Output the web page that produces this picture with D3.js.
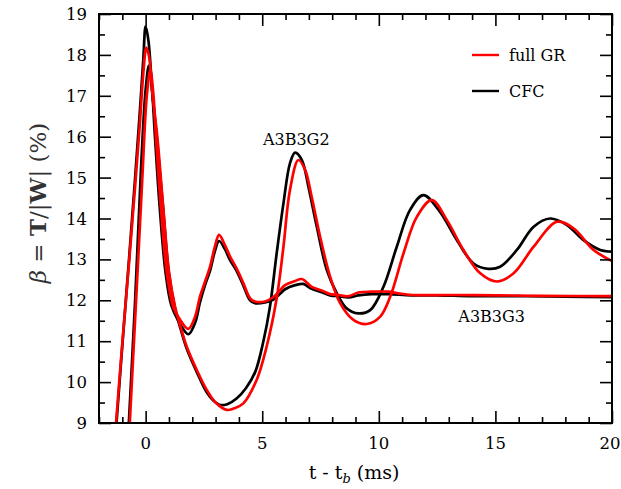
<!DOCTYPE html>
<html>
<head>
<meta charset="utf-8">
<script src="https://cdn.jsdelivr.net/npm/d3@7"></script>
<style>
  html, body { margin: 0; padding: 0; background: #fff; }
  svg { display: block; font-family: "DejaVu Serif", serif; }
</style>
</head>
<body>
<svg id="chart" width="621" height="489"></svg>
<script>
// Rotational-to-gravitational energy ratio beta = T/|W| (%) versus time after bounce (ms)

// A3B3G2, full GR
const grG2Time = [-1.6, -1.27, -1.0, -0.7, -0.45, -0.25, -0.1, 0.03, 0.15, 0.3, 0.5, 0.75, 1.0, 1.26, 1.5, 1.76, 2.19, 2.62, 3.0, 3.48, 3.8, 4.19, 4.76, 5.19, 5.62, 5.91, 6.19, 6.55, 6.84, 7.12, 7.48, 7.91, 8.34, 8.91, 9.48, 10.06, 10.49, 11.06, 11.63, 12.27, 12.92, 13.63, 14.35, 15.06, 15.78, 16.64, 17.64, 18.35, 19.21, 20];
const grG2Beta = [6.6, 9.0, 10.95, 13.0, 14.8, 16.3, 17.55, 18.18, 17.95, 17.0, 16.0, 14.3, 12.7, 11.85, 11.35, 10.87, 10.3, 9.81, 9.5, 9.32, 9.36, 9.48, 10.05, 10.87, 12.05, 13.31, 14.7, 15.43, 15.19, 14.53, 13.56, 12.58, 11.93, 11.52, 11.42, 11.6, 12.09, 13.15, 14.04, 14.45, 13.96, 13.23, 12.66, 12.46, 12.66, 13.31, 13.92, 13.76, 13.23, 12.96];

// A3B3G2, CFC
const cfcG2Time = [-1.6, -1.25, -1.0, -0.7, -0.45, -0.25, -0.1, 0.0, 0.12, 0.3, 0.5, 0.75, 1.0, 1.26, 1.5, 1.76, 2.19, 2.62, 2.9, 3.2, 3.5, 3.9, 4.3, 4.7, 5.05, 5.33, 5.62, 5.91, 6.19, 6.41, 6.7, 6.98, 7.34, 7.77, 8.2, 8.63, 9.12, 9.63, 10.2, 10.77, 11.34, 11.91, 12.6, 13.35, 14.06, 14.7, 15.2, 15.92, 16.64, 17.35, 18.07, 18.78, 19.5, 20];
const cfcG2Beta = [6.5, 9.0, 10.9, 13.1, 15.0, 16.6, 17.9, 18.7, 18.35, 17.0, 15.85, 14.25, 12.65, 11.8, 11.3, 10.82, 10.25, 9.75, 9.55, 9.44, 9.46, 9.6, 9.85, 10.25, 11.0, 11.84, 13.15, 14.37, 15.35, 15.61, 15.43, 14.78, 13.8, 12.74, 12.17, 11.8, 11.68, 11.76, 12.33, 13.31, 14.21, 14.57, 14.18, 13.47, 12.9, 12.77, 12.82, 13.23, 13.8, 14.0, 13.84, 13.47, 13.23, 13.19];

// A3B3G3, full GR
const grG3Time = [-0.95, -0.68, -0.4, -0.15, 0.05, 0.2, 0.33, 0.45, 0.65, 0.9, 1.19, 1.45, 1.83, 2.12, 2.33, 2.55, 2.76, 2.97, 3.15, 3.4, 3.62, 3.9, 4.19, 4.48, 4.69, 5.12, 5.48, 5.69, 5.98, 6.41, 6.7, 7.12, 7.55, 7.91, 8.27, 8.7, 9.12, 9.7, 10.4, 10.84, 11.42, 13.3, 15, 17, 20];
const grG3Beta = [5.9, 9.0, 12.1, 14.9, 17.0, 17.63, 17.05, 15.9, 14.3, 12.7, 11.82, 11.55, 11.3, 11.6, 12.09, 12.46, 12.82, 13.31, 13.6, 13.35, 13.07, 12.78, 12.42, 12.05, 11.97, 11.97, 12.08, 12.2, 12.37, 12.47, 12.52, 12.33, 12.24, 12.15, 12.13, 12.1, 12.19, 12.21, 12.21, 12.17, 12.13, 12.13, 12.12, 12.11, 12.1];

// A3B3G3, CFC
const cfcG3Time = [-1.0, -0.72, -0.45, -0.2, 0.0, 0.14, 0.28, 0.4, 0.6, 0.85, 1.1, 1.4, 1.83, 2.12, 2.33, 2.55, 2.76, 2.97, 3.15, 3.4, 3.62, 3.9, 4.19, 4.48, 4.69, 5.12, 5.48, 5.69, 5.98, 6.41, 6.76, 7.12, 7.55, 7.91, 8.27, 8.7, 9.12, 9.7, 10.4, 11.4, 12.5, 14, 16, 18, 20];
const cfcG3Beta = [5.9, 9.0, 12.0, 15.2, 17.15, 17.74, 17.1, 16.0, 14.3, 12.7, 11.88, 11.5, 11.17, 11.45, 11.95, 12.38, 12.72, 13.2, 13.45, 13.25, 12.98, 12.72, 12.36, 12.0, 11.93, 11.95, 12.02, 12.12, 12.27, 12.37, 12.4, 12.28, 12.2, 12.12, 12.1, 12.07, 12.12, 12.15, 12.15, 12.12, 12.12, 12.1, 12.1, 12.09, 12.08];

const xMajorTicks = [0, 5, 10, 15, 20];
const yMajorTicks = [9, 10, 11, 12, 13, 14, 15, 16, 17, 18, 19];
const legendLabels = ["full GR", "CFC"];
const modelLabels = [
  { text: "A3B3G2", t: 5.03, beta: 15.8 },
  { text: "A3B3G3", t: 13.41, beta: 11.48 }
];

const COLORS = { gr: "#ff0000", cfc: "#000000" };

const svg = d3.select("#chart");
const plot = { left: 99, top: 14, right: 612, bottom: 423 };

const x = d3.scaleLinear().domain([-2, 20]).range([plot.left, plot.right]);
const y = d3.scaleLinear().domain([9, 19]).range([plot.bottom, plot.top]);

svg.append("defs").append("clipPath").attr("id", "plot-clip")
  .append("rect")
  .attr("x", plot.left).attr("y", plot.top)
  .attr("width", plot.right - plot.left).attr("height", plot.bottom - plot.top);

// curves: CFC underneath, full GR on top
const line = d3.line()
  .x(d => x(d[0]))
  .y(d => y(d[1]))
  .curve(d3.curveCatmullRom.alpha(0.5));

const series = [
  { time: cfcG2Time, beta: cfcG2Beta, color: COLORS.cfc },
  { time: cfcG3Time, beta: cfcG3Beta, color: COLORS.cfc },
  { time: grG2Time, beta: grG2Beta, color: COLORS.gr },
  { time: grG3Time, beta: grG3Beta, color: COLORS.gr }
];

const curves = svg.append("g").attr("clip-path", "url(#plot-clip)");
series.forEach(s => {
  curves.append("path")
    .datum(s.time.map((t, i) => [t, s.beta[i]]))
    .attr("fill", "none")
    .attr("stroke", s.color)
    .attr("stroke-width", 2.7)
    .attr("stroke-linejoin", "round")
    .attr("d", line);
});

// inward ticks on all four sides
const xMinor = d3.range(-2, 20.001, 1).filter(v => !xMajorTicks.includes(v));
const yMinor = d3.range(9, 19.001, 0.5).filter(v => !yMajorTicks.includes(v));

function tickAxis(axisFn, scale, values, size, transform) {
  const g = svg.append("g")
    .attr("transform", transform)
    .call(axisFn(scale).tickValues(values).tickSize(-size).tickFormat(""));
  g.select(".domain").remove();
  g.selectAll(".tick line").attr("stroke", "#000").attr("stroke-width", 1.6);
  return g;
}

tickAxis(d3.axisBottom, x, xMajorTicks, 12, `translate(0,${plot.bottom})`);
tickAxis(d3.axisBottom, x, xMinor, 6, `translate(0,${plot.bottom})`);
tickAxis(d3.axisTop, x, xMajorTicks, 12, `translate(0,${plot.top})`);
tickAxis(d3.axisTop, x, xMinor, 6, `translate(0,${plot.top})`);
tickAxis(d3.axisLeft, y, yMajorTicks, 12, `translate(${plot.left},0)`);
tickAxis(d3.axisLeft, y, yMinor, 6, `translate(${plot.left},0)`);
tickAxis(d3.axisRight, y, yMajorTicks, 12, `translate(${plot.right},0)`);
tickAxis(d3.axisRight, y, yMinor, 6, `translate(${plot.right},0)`);

// tick labels
svg.append("g").selectAll("text")
  .data(xMajorTicks).join("text")
  .attr("x", d => Math.min(x(d), 610)).attr("y", plot.bottom + 26)
  .attr("text-anchor", "middle")
  .attr("font-size", 16.5)
  .text(d => d);

svg.append("g").selectAll("text")
  .data(yMajorTicks).join("text")
  .attr("x", 87).attr("y", d => y(d) + 6)
  .attr("text-anchor", "end")
  .attr("font-size", 16.5)
  .text(d => d);

// frame
svg.append("rect")
  .attr("x", plot.left).attr("y", plot.top)
  .attr("width", plot.right - plot.left).attr("height", plot.bottom - plot.top)
  .attr("fill", "none").attr("stroke", "#000").attr("stroke-width", 2);

// axis titles
const xTitle = svg.append("text")
  .attr("x", 354).attr("y", 479)
  .attr("text-anchor", "middle")
  .attr("font-size", 19);
xTitle.append("tspan").text("t - t");
xTitle.append("tspan").attr("font-style", "italic").attr("font-size", 13).attr("dy", 4).text("b");
xTitle.append("tspan").attr("dy", -4).text(" (ms)");

const yTitle = svg.append("text")
  .attr("transform", "translate(46,203) rotate(-90)")
  .attr("text-anchor", "middle")
  .attr("font-size", 23)
  .attr("fill", "#333");
yTitle.append("tspan").attr("font-style", "italic").text("β");
yTitle.append("tspan").text("\u00A0=\u00A0");
yTitle.append("tspan").attr("font-weight", "bold").text("T");
yTitle.append("tspan").text("/|");
yTitle.append("tspan").attr("font-weight", "bold").text("W");
yTitle.append("tspan").text("|\u00A0(%)");

// model annotations
svg.append("g").selectAll("text")
  .data(modelLabels).join("text")
  .attr("x", d => x(d.t)).attr("y", d => y(d.beta))
  .attr("font-size", 16)
  .text(d => d.text);

// legend
const legend = svg.append("g");
[COLORS.gr, COLORS.cfc].forEach((c, i) => {
  const ly = 55 + i * 36;
  legend.append("line")
    .attr("x1", 472).attr("x2", 499).attr("y1", ly).attr("y2", ly)
    .attr("stroke", c).attr("stroke-width", 2.4);
  legend.append("text")
    .attr("x", 509).attr("y", ly + 6)
    .attr("font-size", 16)
    .text(legendLabels[i]);
});
</script>
</body>
</html>
